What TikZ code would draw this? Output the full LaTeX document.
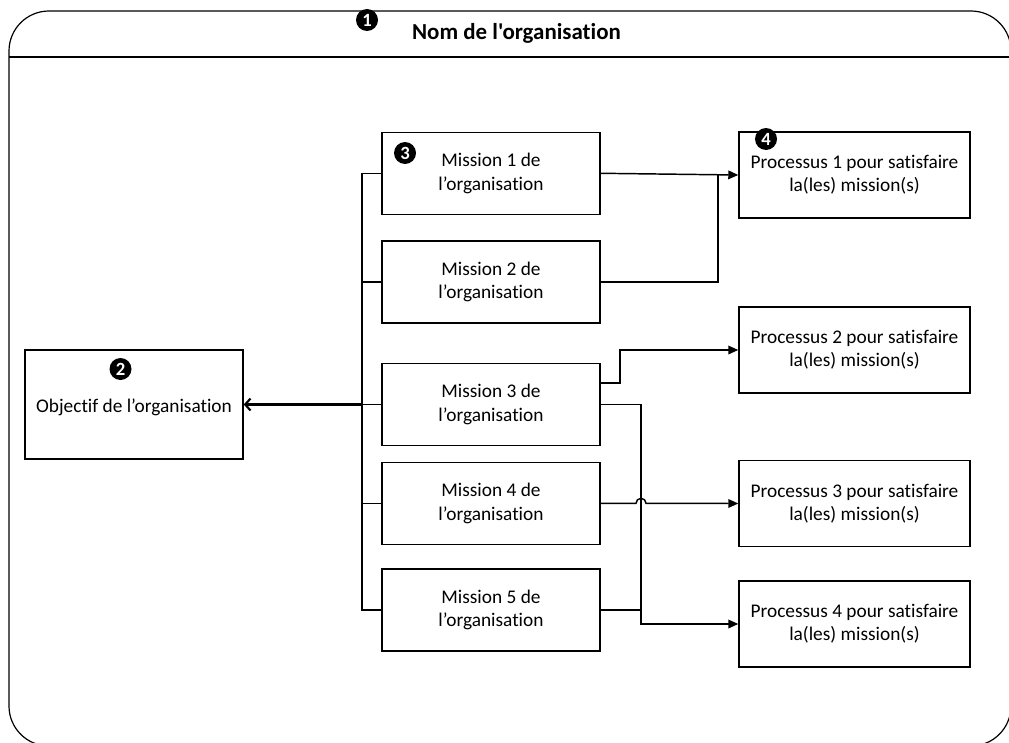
\documentclass[tikz,border=0pt]{standalone}
\usepackage{fontspec}
\setmainfont{Carlito}[Ligatures={TeXOff,NoCommon}]
\usetikzlibrary{arrows.meta,calc}

\tikzset{every picture/.style={line width=0.75pt}}
\tikzset{
  box/.style={draw, line width=1.1pt, align=center, inner sep=2pt,
    font=\fontsize{14.5}{17.5}\selectfont},
  mission/.style={box, minimum width=163.7pt, minimum height=61.5pt},
  processus/.style={box, minimum width=173.25pt, minimum height=64.7pt},
  badge/.style={circle, fill=black, text=white, inner sep=0pt, minimum size=16.5pt,
    font=\fontsize{14}{14}\selectfont\bfseries},
  link/.style={line width=1.1pt},
  linkarrow/.style={line width=1.1pt, -{Triangle[length=7.5pt,width=6.5pt]}},
}

\begin{document}
\begin{tikzpicture}[x=0.75pt,y=0.75pt,yscale=-1,xscale=1]
\useasboundingbox (0,0) rectangle (1009,742);

%cadre de l'organisation
\draw [line width=0.9pt, rounded corners=30pt] (9,11) rectangle (1011,746);
\draw [line width=0.9pt] (9,57) -- (1011,57);
\node (titre) at (516.5,33) {\fontsize{17.2}{18}\selectfont\bfseries Nom de l'organisation};
\node [badge] (b1) at (367,20) {1};

%objectif
\node [box, minimum width=163.5pt, minimum height=81.75pt] (obj) at (134,404.5) {};
\node (objtxt) at (134,407) {\fontsize{14.5}{17.5}\selectfont Objectif de l’organisation};
\node [badge] (b2) at (120.5,369) {2};

%missions
\node [mission] (m1) at (491,173.3) {Mission 1 de\\l’organisation};
\node [mission] (m2) at (491,282) {Mission 2 de\\l’organisation};
\node [mission] (m3) at (491,404.5) {Mission 3 de\\l’organisation};
\node [mission] (m4) at (491,503.3) {Mission 4 de\\l’organisation};
\node [mission] (m5) at (491,610) {Mission 5 de\\l’organisation};
\node [badge] (b3) at (405,153) {3};

%processus
\node [processus] (p1) at (854.5,175) {Processus 1 pour satisfaire\\la(les) mission(s)};
\node [processus] (p2) at (854.5,350) {Processus 2 pour satisfaire\\la(les) mission(s)};
\node [processus] (p3) at (854.5,503.5) {Processus 3 pour satisfaire\\la(les) mission(s)};
\node [processus] (p4) at (854.5,624) {Processus 4 pour satisfaire\\la(les) mission(s)};
\node [badge] (b4) at (766,139) {4};

%bus vers l'objectif
\coordinate (bus) at (362,0);
\draw [link] (m1.west) -- (bus |- m1.west) -- (bus |- m5.west) -- (m5.west);
\foreach \m in {m2,m3,m4}
  \draw [link] (\m.west) -- (bus |- \m.west);
\draw [line width=1.6pt, -{Straight Barb[length=4pt,width=9pt]}] (bus |- m3.west) -- (obj.east);

%missions vers processus
\coordinate (j1) at (718,175);
\coordinate (j2) at (620,365);
\coordinate (j3) at (641,610);
\draw [linkarrow] (m1.east) -- (p1.west);
\draw [link] (m2.east) -| (j1);
\draw [linkarrow] ([yshift=-16pt]m3.east) -| (j2) |- (p2.west);
\draw [linkarrow] (m3.east) -| (j3) |- (p4.west);
\draw [link] (m5.east) -- (j3);
\draw [linkarrow] (m4.east) -- ($(j3 |- m4.east)+(-5,0)$) arc (180:360:5) -- (p3.west);

\end{tikzpicture}
\end{document}
